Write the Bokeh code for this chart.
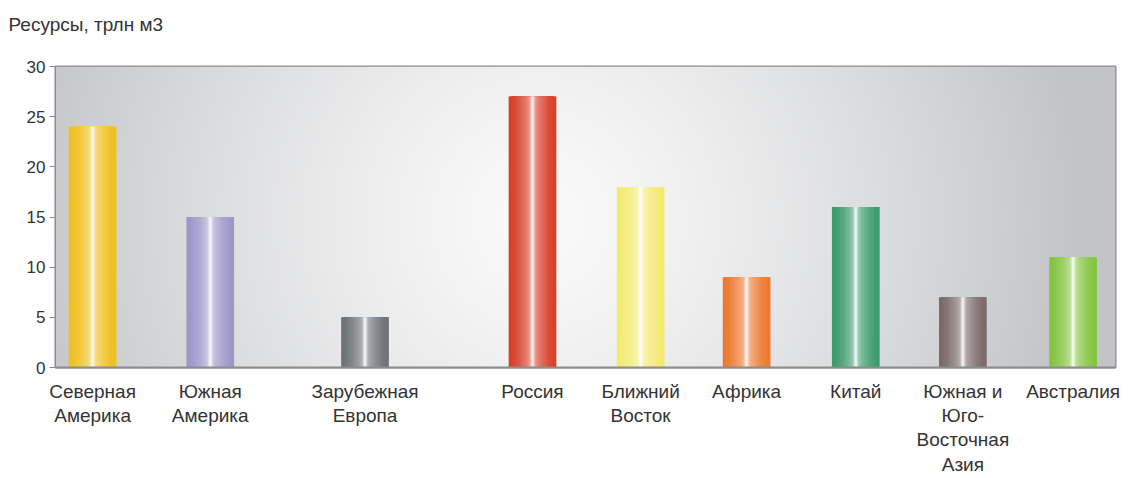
import numpy as np
from bokeh.plotting import figure
from bokeh.models import ColumnDataSource, FixedTicker, Range1d
from bokeh.embed import file_html
from bokeh.resources import INLINE

# ---- data ----
categories = ["Северная\nАмерика", "Южная\nАмерика", "Зарубежная\nЕвропа", "Россия",
              "Ближний\nВосток", "Африка", "Китай", "Южная и\nЮго-\nВосточная\nАзия", "Австралия"]
values = [24, 15, 5, 27, 18, 9, 16, 7, 11]
bar_colors = ["#f0c020", "#9d97c9", "#6e7377", "#d8402a", "#f3ea72",
              "#ec7a30", "#3d9a6d", "#7a6a68", "#84c441"]
y_ticks = [0, 5, 10, 15, 20, 25, 30]
title_text = "Ресурсы, трлн м3"

# ---- layout (slot centres along the axis, irregular as in the original) ----
slot_pos = [0.35, 1.46, 2.92, 4.50, 5.52, 6.52, 7.55, 8.56, 9.60]
bar_w = 0.45
FONT = "Liberation Sans"

p = figure(width=1128, height=478, output_backend="svg", toolbar_location=None,
           x_range=Range1d(0, 10), y_range=Range1d(0, 30),
           min_border_left=55, min_border_right=13, min_border_top=66, min_border_bottom=111)
p.background_fill_color = "white"
p.border_fill_color = "white"
p.outline_line_color = "#8c8c8c"
p.outline_line_width = 2
p.xgrid.visible = False
p.ygrid.visible = False

# title with a trailing blank line to lift it away from the frame
p.title.text = title_text + "\n "
p.title.align = "left"
p.title.offset = -47
p.title.text_font = FONT
p.title.text_font_size = "19px"
p.title.text_font_style = "normal"
p.title.text_color = "#333333"
p.title.text_line_height = 1.28

# radial gray background
ny, nx = 150, 530
yy, xx = np.mgrid[0:ny, 0:nx]
px = xx * (1060 / nx)
py = yy * (301 / ny)
cx, cy = 485, 147
r = np.sqrt((px - cx) ** 2 + (py - cy) ** 2) / 540.0
r = np.clip(r, 0, 1) ** 1.3
c0 = np.array([250, 250, 250])
c1 = np.array([194, 196, 199])
rgb = c0[None, None, :] * (1 - r[..., None]) + c1[None, None, :] * r[..., None]
img = np.empty((ny, nx), dtype=np.uint32)
view = img.view(dtype=np.uint8).reshape((ny, nx, 4))
view[..., 0] = rgb[..., 0]
view[..., 1] = rgb[..., 1]
view[..., 2] = rgb[..., 2]
view[..., 3] = 255
p.image_rgba(image=[img], x=0, y=0, dw=10, dh=30)

# cylinder-shaded bars built from nested, progressively lighter bars
N = 24
xs, tops, widths, cols = [], [], [], []
def hex2rgb(h):
    h = h.lstrip("#")
    return np.array([int(h[i:i + 2], 16) for i in (0, 2, 4)], dtype=float)
for k in range(N):
    t = 1 - k / N
    m = 0.55 * (1 - t) ** 1.6 + 0.45 * np.exp(-(t / 0.1) ** 2)
    m = min(m, 1.0)
    for pos, val, col in zip(slot_pos, values, bar_colors):
        c = hex2rgb(col) * (1 - m) + np.array([255, 255, 255]) * m
        xs.append(pos)
        tops.append(val)
        widths.append(bar_w * t)
        cols.append("#%02x%02x%02x" % tuple(int(round(v)) for v in c))
src = ColumnDataSource(dict(x=xs, top=tops, w=widths, c=cols))
p.vbar(x="x", top="top", width="w", bottom=0, fill_color="c", line_color=None, source=src)

# axes
p.yaxis.ticker = FixedTicker(ticks=y_ticks)
p.yaxis.major_tick_out = 6
p.yaxis.major_tick_in = 0
p.yaxis.minor_tick_line_color = None
p.yaxis.axis_line_color = "#8c8c8c"
p.yaxis.major_tick_line_color = "#8c8c8c"
p.yaxis.major_label_text_font = FONT
p.yaxis.major_label_text_font_size = "17px"
p.yaxis.major_label_text_color = "#333333"
p.yaxis.major_label_standoff = 4

p.xaxis.ticker = FixedTicker(ticks=slot_pos)
p.xaxis.major_label_overrides = {pos: lab for pos, lab in zip(slot_pos, categories)}
p.xaxis.major_tick_line_color = None
p.xaxis.minor_tick_line_color = None
p.xaxis.axis_line_color = "#8c8c8c"
p.xaxis.axis_line_width = 2
p.xaxis.major_label_text_font = FONT
p.xaxis.major_label_text_font_size = "19px"
p.xaxis.major_label_text_color = "#333333"
p.xaxis.major_label_text_line_height = 1.16
p.xaxis.major_label_standoff = 7

open("out.html", "w").write(file_html(p, INLINE))
